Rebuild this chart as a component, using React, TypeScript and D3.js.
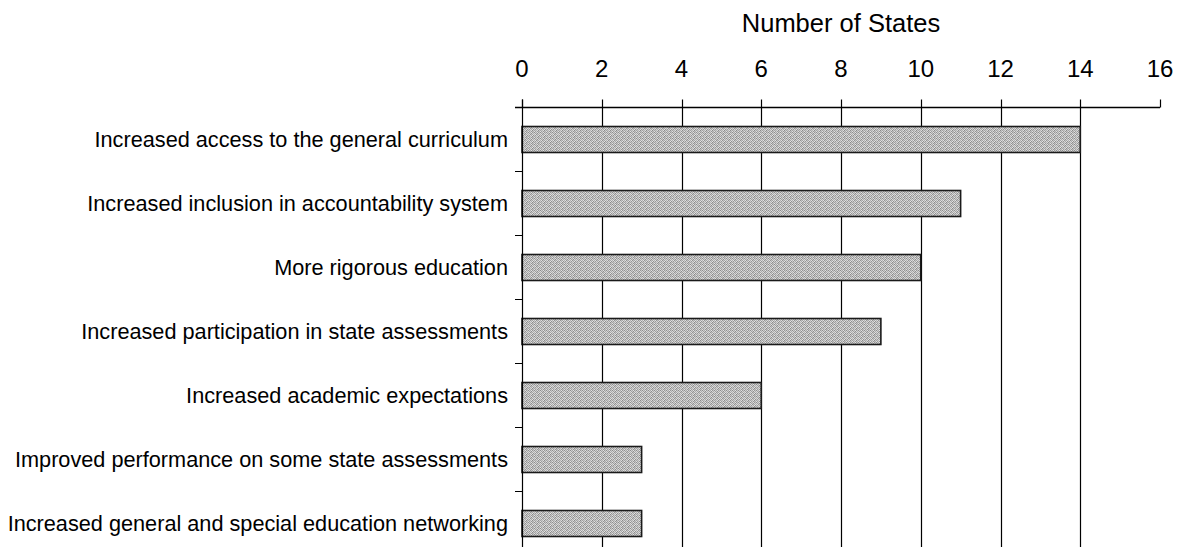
import React from "react";
import * as d3 from "d3";

const categories: string[] = [
  "Increased access to the general curriculum",
  "Increased inclusion in accountability system",
  "More rigorous education",
  "Increased participation in state assessments",
  "Increased academic expectations",
  "Improved performance on some state assessments",
  "Increased general and special education networking",
];
const values: number[] = [14, 11, 10, 9, 6, 3, 3];
const xTicks: number[] = [0, 2, 4, 6, 8, 10, 12, 14, 16];
const axisTitle = "Number of States";

const W = 1177;
const H = 547;
const FONT = "'Liberation Sans', Arial, Helvetica, sans-serif";

// fixed 6x6 stipple tile (grey levels), visual texture only
const tile: string[] = [
  "#8c8c8c", "#d0d0d0", "#a8a8a8", "#e2e2e2", "#969696", "#c8c8c8",
  "#dadada", "#a0a0a0", "#cccccc", "#8e8e8e", "#d8d8d8", "#aaaaaa",
  "#b0b0b0", "#e0e0e0", "#929292", "#c4c4c4", "#a4a4a4", "#dcdcdc",
  "#cfcfcf", "#989898", "#d6d6d6", "#a6a6a6", "#e4e4e4", "#909090",
  "#a2a2a2", "#c6c6c6", "#b4b4b4", "#dddddd", "#8a8a8a", "#cacaca",
  "#e1e1e1", "#9c9c9c", "#d2d2d2", "#949494", "#bfbfbf", "#a9a9a9",
];

export default function App() {
  const x = d3.scaleLinear().domain([0, 16]).range([522, 1160]);
  const y = d3
    .scaleBand<string>()
    .domain(categories)
    .range([107.5, 555.5])
    .paddingInner(0.594)
    .paddingOuter(0.297);
  const axisY = 107.5;
  const x0 = x(0);
  const boundaries = categories.map((c) => (y(c) as number) - (y.step() * y.paddingInner()) / 2);
  boundaries.push(555.5);

  return (
    <svg
      width={W}
      height={H}
      style={{ position: "absolute", left: 0, top: 0, background: "#fff" }}
      fontFamily={FONT}
    >
      <defs>
        <pattern id="stip" width="6" height="6" patternUnits="userSpaceOnUse">
          {tile.map((c, i) => (
            <rect key={i} x={i % 6} y={Math.floor(i / 6)} width={1} height={1} fill={c} />
          ))}
        </pattern>
      </defs>
      <rect width={W} height={H} fill="#fff" />

      {/* title */}
      <text x={(x(0) + x(16)) / 2} y={32} textAnchor="middle" fontSize={25.5} fill="#000">
        {axisTitle}
      </text>

      {/* gridlines */}
      {xTicks
        .filter((t) => t > 0 && t < 16)
        .map((t) => (
          <line key={"g" + t} x1={Math.round(x(t)) + 0.5} x2={Math.round(x(t)) + 0.5} y1={axisY} y2={H} stroke="#000" strokeWidth={1.2} />
        ))}

      {/* bars */}
      {categories.map((c, i) => (
        <rect
          key={c}
          x={x0}
          y={y(c) as number}
          width={x(values[i]) - x0}
          height={y.bandwidth()}
          fill="url(#stip)"
          stroke="#1a1a1a"
          strokeWidth={1.6}
        />
      ))}

      {/* top axis */}
      <line x1={x0 - 7} x2={x(16)} y1={axisY} y2={axisY} stroke="#000" strokeWidth={1.3} />
      {xTicks.map((t) => (
        <g key={"t" + t}>
          <line x1={Math.round(x(t)) + 0.5} x2={Math.round(x(t)) + 0.5} y1={axisY - 8} y2={axisY} stroke="#000" strokeWidth={1.2} />
          <text x={x(t)} y={77} textAnchor="middle" fontSize={24} fill="#000">
            {t}
          </text>
        </g>
      ))}

      {/* left axis */}
      <line x1={x0 + 0.5} x2={x0 + 0.5} y1={axisY - 8} y2={H} stroke="#000" strokeWidth={1.2} />
      {boundaries.map((b, i) => (
        <line key={"yt" + i} x1={x0 - 7} x2={x0} y1={b} y2={b} stroke="#000" strokeWidth={1} />
      ))}

      {/* category labels */}
      {categories.map((c) => (
        <text
          key={"l" + c}
          x={508}
          y={(y(c) as number) + y.bandwidth() / 2}
          dy="0.36em"
          textAnchor="end"
          fontSize={21.7}
          fill="#000"
        >
          {c}
        </text>
      ))}
    </svg>
  );
}
